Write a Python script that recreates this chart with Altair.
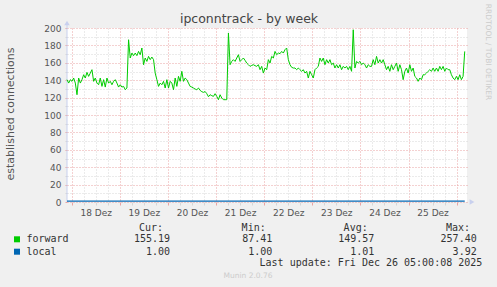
import altair as alt
import pandas as pd

# ---- data ----
forward = [
    140.6, 136.7, 140.6, 138.7, 142.5, 136.7, 123.3, 142.5, 136.7, 140.6,
    146.3, 142.5, 149.0, 144.4, 148.2, 152.1, 138.7, 142.5, 136.7, 134.8,
    142.5, 132.9, 140.6, 132.1, 142.5, 136.7, 138.7, 134.8, 138.7, 140.6,
    136.7, 132.1, 134.8, 132.1, 132.9, 129.1,
    131.0, 186.5, 165.5, 171.2, 168.2, 171.2, 168.2, 173.1, 169.3, 177.0,
    157.8, 165.5, 161.6, 167.4, 163.6, 166.6, 163.6,
    148.2, 140.6, 132.9, 136.7, 134.8, 138.7, 131.0, 140.6, 131.0, 138.7,
    136.7, 129.1, 142.5, 132.9, 144.4, 138.7, 150.2, 138.7, 142.5, 140.6,
    136.7, 132.9, 132.1, 131.0, 129.8, 129.1, 131.0, 128.3, 126.8, 126.0,
    127.0, 124.5, 121.0, 123.3, 122.2, 121.4, 124.5, 121.4, 117.6, 123.3,
    119.5, 117.6, 117.6, 117.6,
    194.2, 157.8, 161.6, 163.6, 161.6, 165.5, 169.3, 161.6, 163.6, 165.5,
    162.8, 159.7, 157.8, 155.9, 157.0, 157.8, 156.7, 155.9, 157.8, 152.1,
    155.9, 148.2, 154.0, 152.1, 163.6, 159.7, 167.4, 165.5, 173.1, 169.3,
    171.2, 170.5, 173.1, 171.2, 175.1, 177.0, 163.6, 157.8, 154.8, 154.0,
    154.0, 152.1, 154.0, 152.1, 150.2, 152.1, 148.2, 150.2, 142.5, 150.2,
    146.3, 142.5, 152.1, 154.0, 155.9, 165.5, 161.6, 165.5, 157.8, 163.6,
    159.7, 163.6, 157.8, 159.7, 154.0, 157.8, 154.0, 157.8, 152.1, 155.9,
    154.0, 155.9, 152.1, 155.9, 150.2, 198.0, 154.0, 161.6, 159.7, 161.6,
    157.8, 159.7, 157.8, 154.0, 157.8, 155.9, 155.9, 163.6, 157.8, 167.4,
    159.7, 163.6, 159.7, 163.6, 157.8, 152.1, 155.9, 150.2, 157.8, 152.1,
    155.9, 159.7, 150.2, 157.8, 152.1, 140.6, 150.2, 154.0, 148.2, 157.8,
    150.2, 154.0, 144.4, 142.5, 138.7, 142.5, 140.6, 146.3, 146.3, 148.2,
    150.2, 152.1, 150.2, 154.0, 150.2, 154.0, 150.2, 155.9, 152.1, 155.9,
    150.2, 154.0, 152.1, 152.1, 146.3, 142.5, 140.6, 144.4, 140.6, 146.3,
    140.6, 144.4, 173.1,
]
local = [1.0] * len(forward)

series = ["forward", "local"]
colors = ["#00CC00", "#0066B3"]
headers = ["Cur:", "Min:", "Avg:", "Max:"]
cur = ["155.19", "1.00"]
mins = ["87.41", "1.00"]
avgs = ["149.57", "1.01"]
maxs = ["257.40", "3.92"]
title_text = "ipconntrack - by week"
y_title = "established connections"
last_update = "Last update: Fri Dec 26 05:00:08 2025"
footer = "Munin 2.0.76"
side_text = "RRDTOOL / TOBI OETIKER"
y_ticks = list(range(0, 201, 10))
days = list(range(18, 26))
month_label = "Dez"

times = pd.date_range("2025-12-17 21:40:00", periods=len(forward), freq="2988s")
ts = [t.strftime("%Y-%m-%dT%H:%M:%S") for t in times]
df_f = pd.DataFrame({"time": ts, "value": forward})
df_l = pd.DataFrame({"time": ts, "value": local})

x_values = [alt.DateTime(year=2025, month=12, date=d, hours=h) for d in days for h in (0, 6, 12, 18)]
x_values.append(alt.DateTime(year=2025, month=12, date=26, hours=0))

RED = "#E9A3A3"
GRAY = "#D6D6D6"

x_axis = alt.Axis(
    values=x_values,
    labelExpr="hours(datum.value) == 12 ? (date(datum.value) + ' " + month_label + "') : ''",
    grid=True,
    gridDash=[1, 2],
    gridColor={"condition": {"test": "hours(datum.value) == 0", "value": RED}, "value": GRAY},
    tickColor={"condition": {"test": "hours(datum.value) == 0", "value": RED}, "value": GRAY},
    tickSize=3,
    labelPadding=3,
    labelFont="DejaVu Sans",
    labelFontSize=9,
    labelColor="#555555",
    labelOverlap=False,
    labelFlush=False,
    domain=False,
    title="",
)
y_axis = alt.Axis(
    values=y_ticks,
    labelExpr="datum.value % 20 == 0 ? datum.label : ''",
    grid=True,
    gridDash=[1, 2],
    gridColor={"condition": {"test": "datum.value % 20 == 0", "value": RED}, "value": GRAY},
    tickColor={"condition": {"test": "datum.value % 20 == 0", "value": RED}, "value": GRAY},
    tickSize=2,
    labelPadding=4,
    labelFont="DejaVu Sans",
    labelFontSize=9,
    labelColor="#555555",
    labelOverlap=False,
    domain=False,
    title="",
)

x_scale = alt.Scale(domain=[
    alt.DateTime(year=2025, month=12, date=17, hours=21, minutes=40),
    alt.DateTime(year=2025, month=12, date=26, hours=5, minutes=10),
])
y_scale = alt.Scale(domain=[0, 200], nice=False)

x_enc = alt.X("time:T", scale=x_scale, axis=x_axis)
y_enc = alt.Y("value:Q", scale=y_scale, axis=y_axis)

line_f = alt.Chart(df_f).mark_line(color=colors[0], strokeWidth=1).encode(x=x_enc, y=y_enc)
line_l = alt.Chart(df_l).mark_line(color=colors[1], strokeWidth=1.4).encode(x=x_enc, y=y_enc)

AXIS_COL = "#C8D0EE"
one = pd.DataFrame({"k": [0]})
y_axis_line = alt.Chart(one).mark_rule(color=AXIS_COL, strokeWidth=1).encode(
    x=alt.value(0), y=alt.value(-4), y2=alt.value(174))
y_arrow = alt.Chart(one).mark_point(shape="triangle-up", filled=True, color=AXIS_COL, size=30, opacity=1).encode(
    x=alt.value(0), y=alt.value(-5))
x_arrow = alt.Chart(one).mark_point(shape="triangle-right", filled=True, color=AXIS_COL, size=30, opacity=1).encode(
    x=alt.value(405), y=alt.value(174))


def txt(s, x, y, size=10, font="DejaVu Sans Mono", color="#333333", align="left", angle=0, baseline="middle"):
    kw = dict(font=font, fontSize=size, color=color, align=align, baseline=baseline)
    if angle:
        kw["angle"] = angle
    return alt.Chart(pd.DataFrame({"t": [s]})).mark_text(**kw).encode(
        text="t:N", x=alt.value(x), y=alt.value(y))


layers = [y_axis_line, line_f, line_l, y_arrow, x_arrow]
layers.append(txt(title_text, 182, -5, size=12.5, font="DejaVu Sans", color="#444444", align="center", baseline="alphabetic"))
layers.append(txt(y_title, -56, 86, size=11, font="DejaVu Sans", color="#555555", align="center", angle=270))
layers.append(txt(side_text, 421, 24, size=7.5, font="DejaVu Sans", color="#CCCCCC", align="center", angle=90))

head_x = [96, 198.7, 300.7, 403]
val_x = [103, 205.3, 307.3, 409.7]
for hx, h in zip(head_x, headers):
    layers.append(txt(h, hx, 199.7, align="right"))

row_y = [211.3, 223.7]
cols = [cur, mins, avgs, maxs]
for i, name in enumerate(series):
    sq = alt.Chart(pd.DataFrame({"s": [name]})).mark_square(color=colors[i], size=36, opacity=1).encode(
        x=alt.value(-50), y=alt.value(row_y[i]))
    layers.append(sq)
    layers.append(txt(name, -40.5, row_y[i]))
    for vx, col in zip(val_x, cols):
        layers.append(txt(col[i], vx, row_y[i], align="right"))

layers.append(txt(last_update, 415.3, 235.3, align="right"))
layers.append(txt(footer, 181, 248.3, size=7.5, font="DejaVu Sans", color="#CCCCCC", align="center"))

chart = alt.layer(*layers).properties(
    width=400,
    height=174,
    autosize=alt.AutoSizeParams(type="none"),
    padding={"left": 67, "top": 28, "right": 30, "bottom": 85},
    background="#F0F0F0",
).configure_view(fill="white", strokeWidth=0)

chart.save("out.html", embed_options={"renderer": "svg", "actions": False})
